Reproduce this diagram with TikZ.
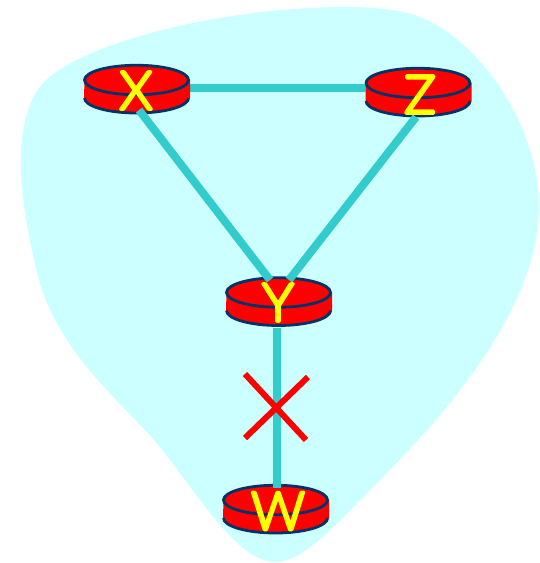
\documentclass[tikz,border=0pt]{standalone}
\usepackage{fontspec}
\usetikzlibrary{shapes.geometric}
\newfontfamily\lblfont{Lato Light}
\definecolor{blobc}{HTML}{CCFFFF}
\definecolor{linkc}{HTML}{33CCCC}
\definecolor{edgec}{HTML}{003366}
\newcommand{\strokedletter}[1]{\special{pdf:code q 2 Tr 1 J 1 j 3 w 1 1 0 RG}#1\special{pdf:code 0 Tr Q}}
\tikzset{
  x=1pt,y=-1pt,
  routertop/.style={ellipse,draw=edgec,fill=red,line width=2.8pt,minimum width=104pt,minimum height=29.5pt,inner sep=0pt,outer sep=0pt},
  routerbody/.style={fill=red},
  routerrim/.style={draw=edgec,line width=2.8pt},
  netlink/.style={draw=linkc,line width=8pt},
  failmark/.style={draw=red,line width=6pt},
  routerlabel/.style={text=yellow,font=\lblfont\fontsize{53}{53}\selectfont,inner sep=0pt,outer sep=0pt}
}
\newcommand{\routerat}[3]{%
  \fill[routerbody] (#1-52,#2) -- (#1+53.5,#2) -- (#1+53.5,#2+18) arc[start angle=0,end angle=180,x radius=53,y radius=15] -- cycle;
  \draw[routerrim] (#1-52,#2+18) arc[start angle=180,end angle=0,x radius=52,y radius=15];
  \node[routertop] (#3) at (#1,#2) {};
}
\begin{document}
\begin{tikzpicture}
\useasboundingbox (0,0) rectangle (539,563);
\fill[blobc] (21,165) .. controls (20,130) and (28,100) .. (43,83)
  .. controls (75,50) and (170,22) .. (270,11)
  .. controls (315,7) and (365,4) .. (403,12)
  .. controls (470,25) and (539,120) .. (539,207)
  .. controls (539,300) and (460,400) .. (380,480)
  .. controls (340,520) and (305,562) .. (275,562)
  .. controls (240,562) and (205,505) .. (160,447)
  .. controls (125,405) and (60,355) .. (39,280)
  .. controls (30,245) and (21,200) .. (21,165) -- cycle;
\coordinate (xr) at (190,88);
\coordinate (zl) at (366,88);
\path[netlink] (xr) -- (zl);
\routerat{136.5}{80}{X}
\routerat{418}{83}{Z}
\routerat{278.5}{292.5}{Y}
\routerat{275.5}{500}{W}
\coordinate (xb) at (139,110);
\coordinate (yl) at (270,280);
\coordinate (zb) at (416,117);
\coordinate (yr) at (289,280);
\coordinate (yb) at (276.5,328);
\coordinate (wt) at (276.5,488);
\path[netlink] (xb) -- (yl);
\path[netlink] (zb) -- (yr);
\path[netlink] (yb) -- (wt);
\coordinate (fa) at (245,374);
\coordinate (fb) at (306,440);
\coordinate (fc) at (308,377);
\coordinate (fd) at (245,438);
\path[failmark] (fa) -- (fb);
\path[failmark] (fc) -- (fd);
\node[routerlabel] (lx) at (136,90.5) {\strokedletter{X}};
\node[routerlabel] (lz) at (420,94.5) {\strokedletter{Z}};
\node[routerlabel] (ly) at (278,302.5) {\strokedletter{Y}};
\node[routerlabel] (lw) at (278,511) {\strokedletter{W}};
\end{tikzpicture}
\end{document}
